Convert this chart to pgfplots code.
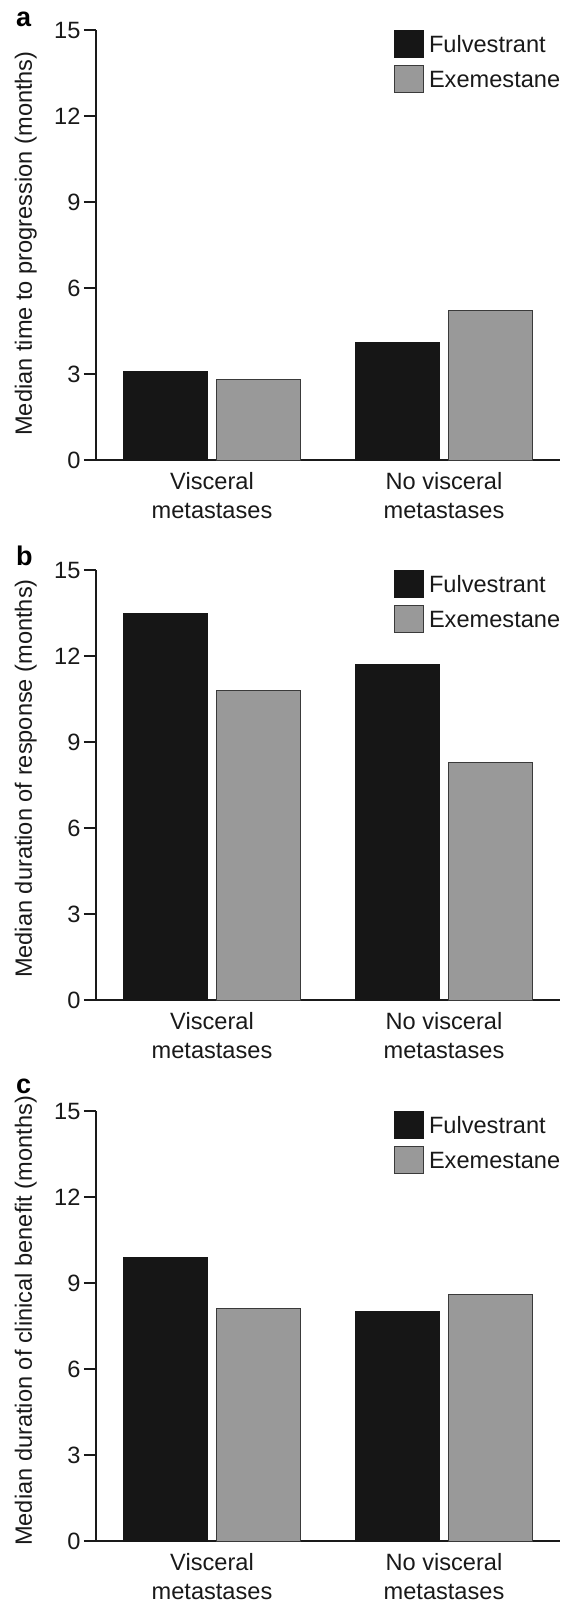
\documentclass[border=0pt]{standalone}
\usepackage{fontspec}
\setmainfont{Liberation Sans}
\usepackage{pgfplots}
\pgfplotsset{compat=1.18}
\definecolor{fulv}{HTML}{161616}
\definecolor{exem}{HTML}{999999}
\definecolor{exemedge}{HTML}{3A3A3A}
\definecolor{axcol}{HTML}{1A1A1A}
\newcommand{\fnt}{\fontsize{23.6}{28.6}\selectfont}
\pgfplotsset{
  panel/.style={
    width=464pt, height=430pt, scale only axis,
    xmin=-0.5, xmax=1.5, ymin=0, ymax=15,
    axis x line*=bottom, axis y line*=left,
    axis line style={line width=1.3pt, color=axcol},
    ytick={0,3,6,9,12,15},
    ytick align=outside,
    major tick length=12pt,
    ytick style={line width=1.3pt, color=axcol},
    xtick={0,1},
    xtick style={draw=none},
    xticklabels={{Visceral\\metastases},{No visceral\\metastases}},
    xticklabel style={align=center, font=\fnt, inner sep=0pt, yshift=-12.5pt, text=black!90},
    yticklabel style={font=\fnt, text=black!90},
    /pgf/number format/assume math mode=true,
    label style={font=\fnt, text=black!90},
    legend style={at={(axis description cs:0.6416,1)}, anchor=north west,
      draw=none, fill=none, inner sep=0pt, outer sep=0pt,
      row sep=7.6pt, column sep=5.4pt, font=\fnt,
      nodes={inner sep=0pt, anchor=base west, text=black!90}},
    legend cell align=left,
  },
  fbar/.style={ybar, bar width=0.36, bar shift=-0.2, fill=fulv, draw=fulv, line width=0.8pt,
    legend image code/.code={\draw[fill=fulv, draw=fulv, line width=0.8pt] (0pt,-5pt) rectangle (29pt,21.7pt);}},
  ebar/.style={ybar, bar width=0.36, bar shift=0.2, fill=exem, draw=exemedge, line width=0.9pt,
    legend image code/.code={\draw[fill=exem, draw=exemedge, line width=0.9pt] (0pt,-5pt) rectangle (29pt,21.7pt);}},
}
\begin{document}
\begin{tikzpicture}
\path[use as bounding box] (0pt,0pt) rectangle (571pt,-1602pt);
% panel a
\begin{axis}[panel, at={(96pt,-460pt)}, anchor=south west,
  ylabel={Median time to progression (months)},
  ylabel style={at={(axis description cs:-0.138,0.5035)}, anchor=base}]
\addplot[fbar] coordinates {(0,3.1) (1,4.1)};
\addlegendentry{Fulvestrant}
\addplot[ebar] coordinates {(0,2.8) (1,5.2)};
\addlegendentry{Exemestane}
\end{axis}
\node[anchor=base west, inner sep=0pt, font=\fontsize{27}{30}\selectfont\bfseries] at (16pt,-27pt) {a};
% panel b
\begin{axis}[panel, at={(96pt,-1000pt)}, anchor=south west,
  ylabel={Median duration of response (months)},
  ylabel style={at={(axis description cs:-0.138,0.515)}, anchor=base}]
\addplot[fbar] coordinates {(0,13.5) (1,11.7)};
\addlegendentry{Fulvestrant}
\addplot[ebar] coordinates {(0,10.8) (1,8.3)};
\addlegendentry{Exemestane}
\end{axis}
\node[anchor=base west, inner sep=0pt, font=\fontsize{27}{30}\selectfont\bfseries] at (16pt,-565pt) {b};
% panel c
\begin{axis}[panel, at={(96pt,-1541pt)}, anchor=south west,
  ylabel={Median duration of clinical benefit (months)},
  ylabel style={at={(axis description cs:-0.138,0.512)}, anchor=base}]
\addplot[fbar] coordinates {(0,9.9) (1,8.0)};
\addlegendentry{Fulvestrant}
\addplot[ebar] coordinates {(0,8.1) (1,8.6)};
\addlegendentry{Exemestane}
\end{axis}
\node[anchor=base west, inner sep=0pt, font=\fontsize{27}{30}\selectfont\bfseries] at (16pt,-1093pt) {c};
\end{tikzpicture}
\end{document}
